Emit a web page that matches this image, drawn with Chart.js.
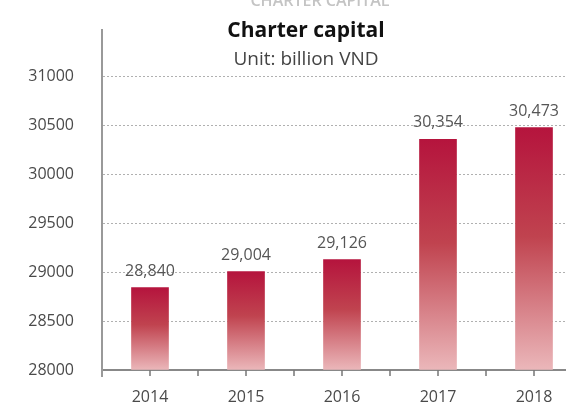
<!DOCTYPE html>
<html>
<head>
<meta charset="utf-8">
<title>Charter capital</title>
<script src="https://cdn.jsdelivr.net/npm/chart.js@4"></script>
<style>
    html, body { margin: 0; padding: 0; background: #fff; overflow: hidden; }
    /* the plot runs past the right edge, so the frame clips it */
    #frame { position: relative; width: 566px; height: 404px; overflow: hidden; }
    canvas { display: block; }
</style>
</head>
<body>
<div id="frame"><canvas id="capitalChart" width="582" height="404"></canvas></div>
<script>
// Charter capital by year (billion VND)
const years = ["2014", "2015", "2016", "2017", "2018"];
const capital = [28840, 29004, 29126, 30354, 30473];
const yTicks = [28000, 28500, 29000, 29500, 30000, 30500, 31000];
const yMin = 28000;
const yMax = 31470;

const FONT = "'Open Sans', 'Noto Sans', sans-serif";
const HEAD_X = 306; // horizontal centre of the headings

// gradient per bar: dark crimson on top fading to pale pink at the base
function barGradient(context) {
    const chart = context.chart;
    const { ctx, chartArea, scales } = chart;
    if (!chartArea || context.raw == null) {
        return "#b8173f";
    }
    const top = scales.y.getPixelForValue(context.raw);
    const bottom = scales.y.getPixelForValue(yMin);
    const g = ctx.createLinearGradient(0, top, 0, bottom);
    g.addColorStop(0, "#b5143d");
    g.addColorStop(0.45, "#c0434f");
    g.addColorStop(1, "#ebb7ba");
    return g;
}

// headings, value labels and the small tick marks under the x axis
const decorations = {
    id: "decorations",
    afterDatasetsDraw(chart) {
        const { ctx, scales, chartArea } = chart;
        const meta = chart.getDatasetMeta(0);
        ctx.save();

        // value labels above the bars
        ctx.fillStyle = "#555";
        ctx.font = "16px " + FONT;
        ctx.textAlign = "center";
        ctx.textBaseline = "alphabetic";
        meta.data.forEach((bar, i) => {
            ctx.fillText(capital[i].toLocaleString("en-US"), bar.x, bar.y - 12);
        });

        // tick marks at category centres and boundaries
        const x = scales.x;
        const step = x.width / years.length;
        ctx.strokeStyle = "#777";
        ctx.lineWidth = 1.5;
        ctx.beginPath();
        years.forEach((y, i) => {
            const cx = x.getPixelForValue(i);
            ctx.moveTo(cx, chartArea.bottom);
            ctx.lineTo(cx, chartArea.bottom + 6);
            ctx.moveTo(cx + step / 2, chartArea.bottom);
            ctx.lineTo(cx + step / 2, chartArea.bottom + 6);
        });
        ctx.stroke();

        // y axis runs a little below the x axis
        ctx.strokeStyle = "#999";
        ctx.lineWidth = 2;
        ctx.beginPath();
        ctx.moveTo(chartArea.left, chartArea.bottom);
        ctx.lineTo(chartArea.left, chartArea.bottom + 7);
        ctx.stroke();

        // headings
        ctx.textAlign = "center";
        ctx.fillStyle = "#c4c4c4";
        ctx.font = "600 16px " + FONT;
        ctx.fillText("CHARTER CAPITAL", HEAD_X + 14, 6);
        ctx.fillStyle = "#111";
        ctx.font = "bold 21px " + FONT;
        ctx.fillText("Charter capital", HEAD_X, 37);
        ctx.fillStyle = "#444";
        ctx.font = "19px " + FONT;
        ctx.fillText("Unit: billion VND", HEAD_X, 65);

        ctx.restore();
    }
};

const chartCtx = document.getElementById("capitalChart").getContext("2d");
new Chart(chartCtx, {
    type: "bar",
    data: {
        labels: years,
        datasets: [
            {
                label: "Charter capital",
                data: capital,
                backgroundColor: barGradient,
                barThickness: 37,
                base: yMin,
            },
        ],
    },
    options: {
        responsive: false,
        animation: false,
        devicePixelRatio: 1,
        layout: {
            padding: { top: 30, right: 0, left: 0, bottom: 0 },
        },
        plugins: {
            legend: { display: false },
            tooltip: { enabled: false },
            title: { display: false },
        },
        scales: {
            x: {
                offset: true,
                grid: { display: false, drawTicks: false },
                border: { display: true, color: "#888", width: 2 },
                ticks: {
                    color: "#4a4a4a",
                    font: { family: FONT, size: 16 },
                    padding: 18,
                },
                afterFit(scale) {
                    scale.height = 34;
                    scale.paddingLeft = 0;
                    scale.paddingRight = 0;
                },
            },
            y: {
                min: yMin,
                max: yMax,
                afterBuildTicks(scale) {
                    scale.ticks = yTicks.map((v) => ({ value: v }));
                },
                grid: {
                    color: "#b0b0b0",
                    lineWidth: 1,
                    drawTicks: false,
                },
                border: { display: true, color: "#999", width: 2, dash: [2, 2] },
                ticks: {
                    color: "#4a4a4a",
                    font: { family: FONT, size: 16 },
                    padding: 28,
                    callback: (value) => String(value),
                },
                afterFit(scale) {
                    scale.width = 102;
                    scale.paddingTop = 0;
                    scale.paddingBottom = 0;
                },
            },
        },
    },
    plugins: [decorations],
});
</script>
</body>
</html>
